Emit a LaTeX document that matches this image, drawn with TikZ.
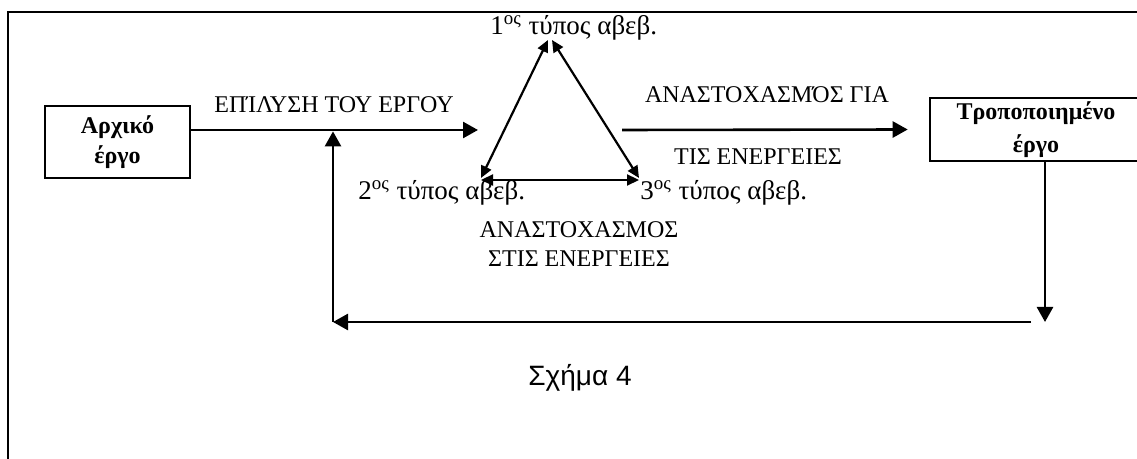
\documentclass[tikz,border=0pt]{standalone}
\usepackage{fontspec}
\setmainfont{Liberation Serif}
\setsansfont{Liberation Sans}
\usetikzlibrary{arrows.meta}

\begin{document}
\begin{tikzpicture}[
  x=0.5pt, y=-0.5pt,
  font=\fontsize{12}{14.5}\selectfont,
  box/.style={draw, line width=1.3pt, align=center, inner sep=0pt,
    font=\fontsize{12}{15}\selectfont\bfseries},
  flow/.style={line width=1.3pt, -{Triangle[length=7.5pt, width=8pt]}},
  tri/.style={line width=1.1pt,
    {Triangle[length=6pt, width=5.5pt]}-{Triangle[length=6pt, width=5.5pt]}},
  lbl/.style={inner sep=0pt},
  kind/.style={inner sep=0pt, anchor=base west, font=\fontsize{13.5}{16}\selectfont},
  frame/.style={line width=1.4pt}
]
\useasboundingbox (0,0) rectangle (1137,459);
\draw[frame] (8,462) -- (8,12) -- (1142,12);

\node[box, minimum width=72.5pt, minimum height=36pt] (arx) at (117.5,142)
  {Αρχικό\\έργο};
\node[box, minimum width=106pt, minimum height=31.5pt] (trop) at (1036,129.5)
  {Τροποποιημένο\\[1.5pt]έργο};

\coordinate (in) at (478,130);
\coordinate (out) at (622,130);
\coordinate (t1) at (550,40);
\coordinate (t2) at (481,178);
\coordinate (t3) at (639,178);
\coordinate (dn) at (1045,322);
\coordinate (up) at (333,322);

\node[lbl, anchor=base] (solve) at (334,113) {ΕΠΊΛΥΣΗ ΤΟΥ ΕΡΓΟΥ};
\node[lbl, anchor=base] (retop) at (767,103) {ΑΝΑΣΤΟΧΑΣΜΌΣ ΓΙΑ};
\node[lbl, anchor=base] (rebot) at (758,165) {ΤΙΣ ΕΝΕΡΓΕΙΕΣ};
\node[lbl, anchor=base, align=center] (fb) at (579,267)
  {ΑΝΑΣΤΟΧΑΣΜΟΣ\\ΣΤΙΣ ΕΝΕΡΓΕΙΕΣ};
\node[kind] (u1) at (490,35) {1\textsuperscript{ος} τύπος αβεβ.};
\node[kind] (u2) at (358,200) {2\textsuperscript{ος} τύπος αβεβ.};
\node[kind] (u3) at (640,200) {3\textsuperscript{ος} τύπος αβεβ.};
\node[lbl, anchor=base, font=\sffamily\fontsize{14}{16}\selectfont] (cap) at (580,386)
  {Σχήμα 4};

\draw[flow] (arx.east |- in) -- (in);
\draw[flow] (out) -- ([xshift=-10.5pt]trop.west);

% triangle of the three types
\draw[tri] ([xshift=-1pt]t1) -- (t2);
\draw[tri] ([xshift=1pt]t1) -- (t3);
\draw[tri] ([yshift=-1pt]t2) -- ([yshift=-1pt]t3);

% feedback loop
\draw[flow] (trop.south -| dn) -- (dn);
\draw[flow] ([xshift=-7pt]dn) -- (up);
\draw[flow] (up) -- ([yshift=-0.7pt]up |- in);
\end{tikzpicture}
\end{document}
